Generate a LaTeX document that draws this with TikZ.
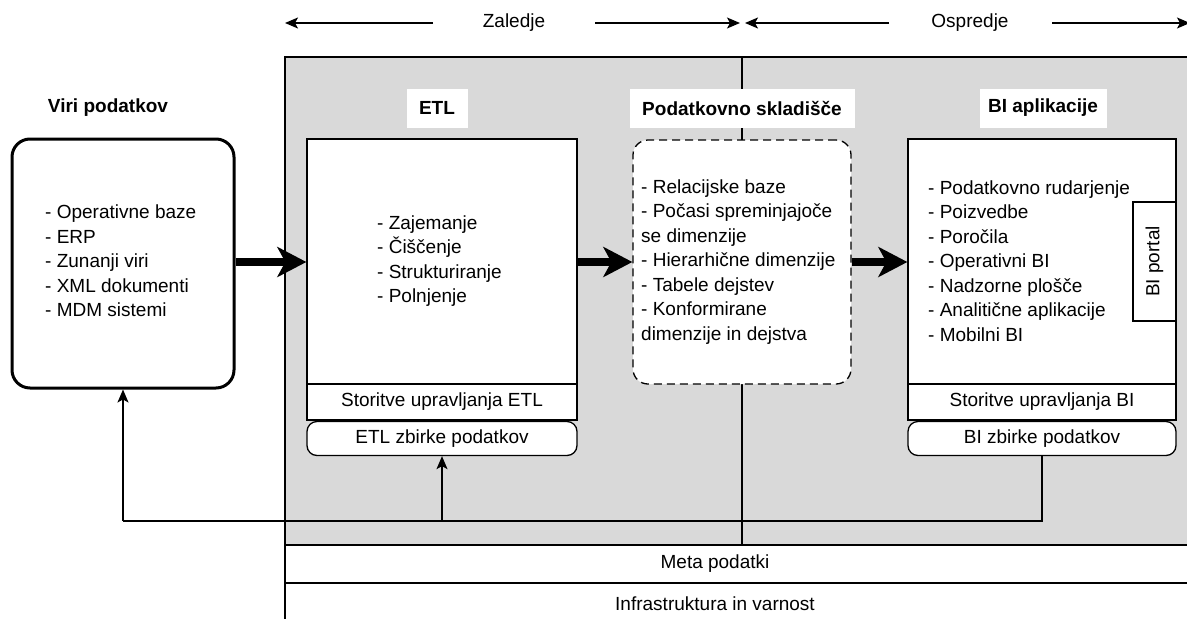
\documentclass[tikz,border=0pt]{standalone}
\usepackage{fontspec}
\setmainfont{Liberation Sans}
\usetikzlibrary{arrows.meta}
\definecolor{panelgray}{RGB}{217,217,217}

\begin{document}
\begin{tikzpicture}[x=1pt,y=-1pt,
  every node/.style={font=\fontsize{19}{24.5}\selectfont, inner sep=0pt},
  heading/.style={font=\fontsize{19}{24.5}\selectfont\bfseries},
  tag/.style={heading, fill=white, minimum height=39pt},
  box/.style={draw, fill=white, line width=1.3pt},
  listtext/.style={align=left, anchor=west},
  flow/.style={line width=8pt, -{Stealth[length=29pt,width=30pt,inset=8pt]}},
  thin/.style={line width=1.3pt, -{Stealth[length=13pt,width=11pt,inset=3pt]}},
  rule/.style={line width=1.3pt}]
\useasboundingbox (0,0) rectangle (1187,619);

% shaded back/front area and the two bottom bands
\fill[panelgray] (285,57) rectangle (1187,545);
\draw[rule] (1187,57) -- (285,57) -- (285,619);
\draw[rule] (285,545) -- (1187,545);
\draw[rule] (285,583) -- (1187,583);
\node (meta) at (715,564) {Meta podatki};
\node (infra) at (715,604) {Infrastruktura in varnost};

% divider between back end and front end
\coordinate (divT) at (742,57);
\coordinate (divB) at (742,545);
\draw[rule] (divT) -- (divB);

% top scale
\node (zal) at (514,23) {Zaledje};
\node (osp) at (970,23) {Ospredje};
\coordinate (a1) at (285,23);
\coordinate (a2) at (433,23);
\coordinate (a3) at (595,23);
\coordinate (a4) at (740,23);
\coordinate (a5) at (745,23);
\coordinate (a6) at (889,23);
\coordinate (a7) at (1052,23);
\coordinate (a8) at (1190,23);
\draw[thin] (a2) -- (a1);
\draw[thin] (a3) -- (a4);
\draw[thin] (a6) -- (a5);
\draw[thin] (a7) -- (a8);

% column headings
\node[heading] (lviri) at (108,108) {Viri podatkov};
\node[tag, minimum width=61pt] (letl) at (437,108) {ETL};
\node[tag, minimum width=225pt] (ldw) at (742,108) {Podatkovno skladišče};
\node[tag, minimum width=127pt] (lbi) at (1043,108) {BI aplikacije};

% data sources
\node[box, line width=3pt, rounded corners=18pt, minimum width=222pt, minimum height=249pt] (viri) at (123,263.5) {};
\node[listtext] (viril) at (45,261) {- Operativne baze\\- ERP\\- Zunanji viri\\- XML dokumenti\\- MDM sistemi};

% ETL
\node[box, minimum width=270pt, minimum height=245pt] (etl) at (442,261.5) {};
\node[listtext] (etll) at (377,261) {- Zajemanje\\- Čiščenje\\- Strukturiranje\\- Polnjenje};
\node[box, minimum width=270pt, minimum height=36pt] (etlsvc) at (442,402) {Storitve upravljanja ETL};
\node[box, rounded corners=10pt, minimum width=270pt, minimum height=34pt] (etlzb) at (442,438.5) {ETL zbirke podatkov};

% data warehouse
\node[box, dashed, dash pattern=on 8pt off 5pt, rounded corners=15pt, minimum width=218pt, minimum height=244pt] (dw) at (742,262) {};
\node[listtext] (dwl) at (641,262) {- Relacijske baze\\- Počasi spreminjajoče\\se dimenzije\\- Hierarhične dimenzije\\- Tabele dejstev\\- Konformirane\\dimenzije in dejstva};

% BI applications
\node[box, minimum width=268pt, minimum height=245pt] (bi) at (1042,261.5) {};
\node[listtext] (bil) at (928,261) {- Podatkovno rudarjenje\\- Poizvedbe\\- Poročila\\- Operativni BI\\- Nadzorne plošče\\- Analitične aplikacije\\- Mobilni BI};
\node[box, rotate=90, minimum width=119pt, minimum height=43pt] (portal) at (1154.5,261.5) {BI portal};
\node[box, minimum width=268pt, minimum height=36pt] (bisvc) at (1042,402) {Storitve upravljanja BI};
\node[box, rounded corners=10pt, minimum width=268pt, minimum height=34pt] (bizb) at (1042,438.5) {BI zbirke podatkov};

% main data flow
\draw[flow] (viri.east |- 0,262) -- (etl.west |- 0,262);
\draw[flow] (etl.east |- 0,262) -- (dw.west |- 0,262);
\draw[flow] (dw.east |- 0,262) -- (bi.west |- 0,262);

% feedback from BI collections
\coordinate (fbR) at (bizb.south |- 0,521);
\coordinate (fbM) at (etlzb.south |- 0,521);
\coordinate (fbL) at (viri.south |- 0,521);
\draw[rule] (bizb.south) -- (fbR) -- (fbL);
\draw[thin] (fbL) -- (viri.south);
\draw[thin] (fbM) -- (etlzb.south);
\end{tikzpicture}
\end{document}
